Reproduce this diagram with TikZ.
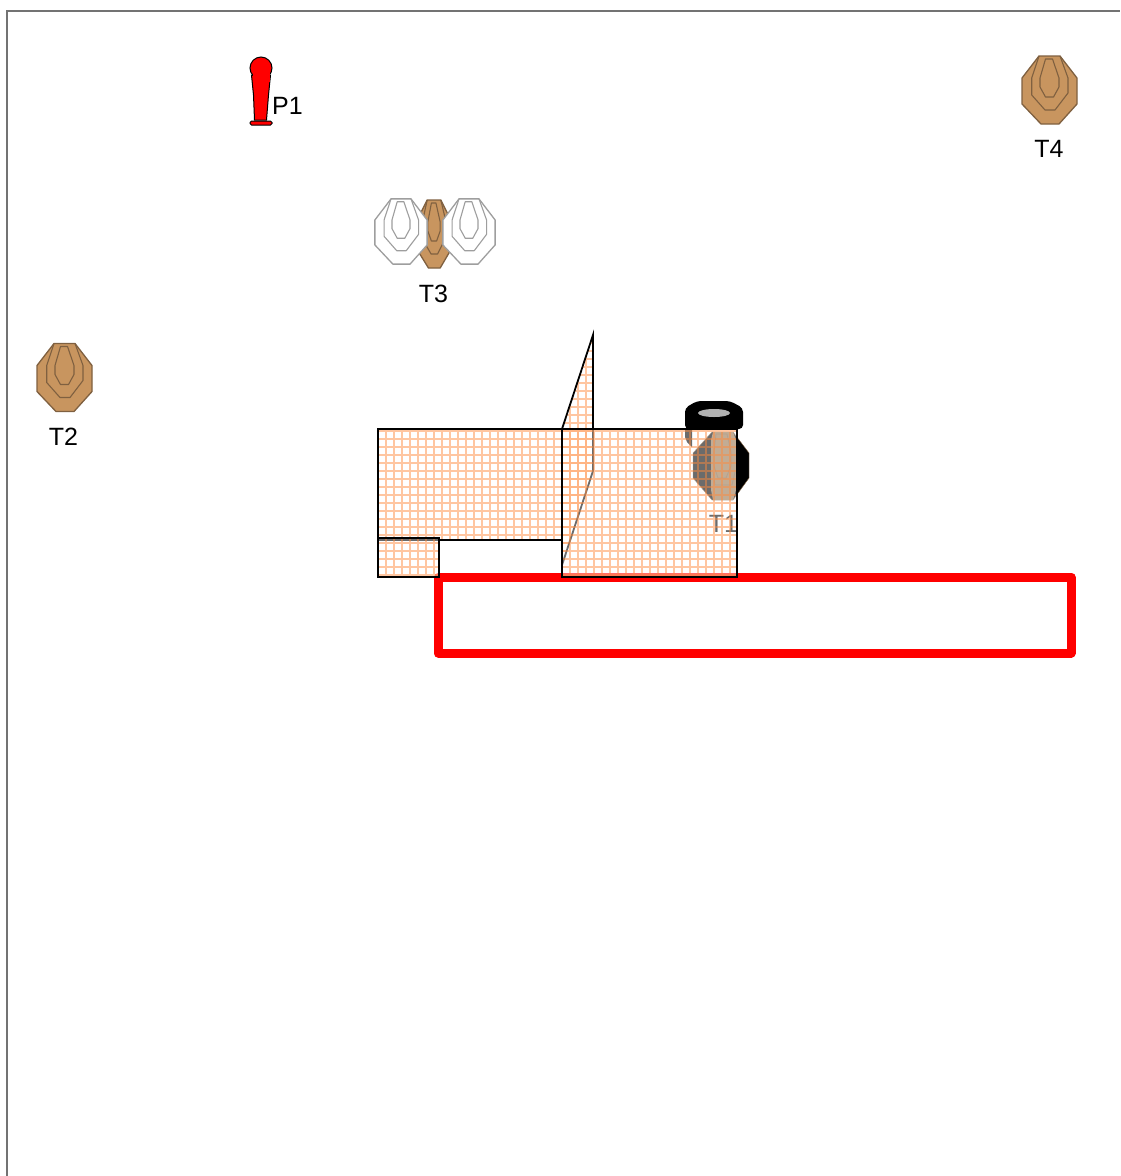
\documentclass[tikz,border=0pt]{standalone}
\usepackage{fontspec}
\setmainfont{Liberation Sans}
\usepackage{tikz}
\definecolor{tan}{HTML}{C8955F}
\definecolor{tanline}{HTML}{7F6040}
\definecolor{meshc}{HTML}{FF8A3C}
\newcommand{\meshfill}[1]{
  \begin{scope}
    \clip #1;
    \fill[white, opacity=0.42] #1;
    \draw[meshline] foreach \gx in {362,370,...,738} {(\gx,320) -- (\gx,590)}
      foreach \gy in {327,335,...,583} {(360,\gy) -- (740,\gy)};
  \end{scope}
  \draw[wallline] #1;
}
\begin{document}
\begin{tikzpicture}[
  x=1pt, y=-1pt,
  meshline/.style={meshc, opacity=0.48, line width=2.4pt},
  wallline/.style={black, line width=1.8pt, line join=miter},
  lbl/.style={font=\fontsize{25}{25}\selectfont, inner sep=0pt, text=black},
  pics/target/.style 2 args={code={
    \draw[fill=#1, draw=#2, line width=1.3pt, line join=round]
      (-10.5,-34) -- (10.5,-34) -- (27.5,-12) -- (27.5,14) -- (9.5,34) -- (-8.5,34) -- (-27.5,14) -- (-27.5,-12) -- cycle;
    \draw[draw=#2, line width=1.1pt, line join=round]
      (-10.5,-34) -- (-17.8,-12) -- (-17.8,5) -- (-4.5,20) -- (5.5,20) -- (18.5,3) -- (18.5,-12) -- (10.5,-34);
    \draw[draw=#2, line width=1.1pt, line join=round]
      (-4,-31) -- (3,-31) -- (9.5,-12) -- (9.5,-3) -- (4,7) -- (-4,7) -- (-9.5,-3) -- (-9.5,-12) -- cycle;
  }},
]
  \useasboundingbox (0,0) rectangle (1120,1176);
  \draw[black!55, line width=2pt] (7,1176) -- (7,10.5) -- (1120,10.5);

  \draw[draw=black, fill=red, line width=1pt] (251.5,75) -- (253.5,95) -- (254.5,120) -- (266.5,120) -- (268.5,95) -- (270.5,75) -- cycle;
  \draw[draw=black, fill=red, line width=1pt] (261,68) circle (11);
  \fill[red] (252.5,72) rectangle (269.5,82);
  \draw[draw=black, fill=red, line width=1pt, rounded corners=1.5pt] (250,121) rectangle (272,125);
  \node[lbl] (p1) at (287.5,106) {P1};

  \pic at (1049.5,90) {target={tan}{tanline}};
  \node[lbl] (t4) at (1049,149) {T4};

  \pic at (64.5,377.5) {target={tan}{tanline}};
  \node[lbl] (t2) at (63.5,437) {T2};

  \pic[xscale=0.65] at (434,234) {target={tan}{tanline}};
  \pic[xscale=0.95, yscale=0.96] at (401,231.5) {target={white}{black!38}};
  \pic[xscale=0.95, yscale=0.96] at (469,231.5) {target={white}{black!38}};
  \node[lbl] (t3) at (433.5,294) {T3};

  \draw[red, line width=9pt, line join=round] (438,577) rectangle (1071,653);

  \fill[black, rounded corners=4pt] (697,401) -- (730,401) -- (743,408) -- (743,429) -- (685,429) -- (685,408) -- cycle;
  \fill[black!30] (714,413) ellipse (16 and 4);
  \fill[black] (685,429) -- (692,429) -- (692,447) -- (687,442) -- (685,437) -- cycle;
  \draw[fill=black, draw=tanline] (712,432) -- (733,432) -- (749,453) -- (749,478) -- (733,500) -- (712,500) -- (693,478) -- (693,453) -- cycle;
  \fill[tan!75!black] (713,432) -- (733,432) -- (736,440) -- (736,490) -- (733,500) -- (713,500) -- (711,490) -- (711,440) -- cycle;
  \draw[tanline, line width=0.8pt] (716,434) -- (727,434) -- (731,452) -- (731,466) -- (726,478) -- (718,478) -- (714,466) -- (714,452) -- cycle;
  \draw[tanline, line width=0.8pt] (713,472) -- (715,485) -- (732,485) -- (735,472);
  \node[lbl] (t1) at (723.5,524) {T1};

  \meshfill{(378,429) rectangle (562,540)}
  \meshfill{(378,538) rectangle (439,577)}
  \meshfill{(562,429) -- (593,335) -- (593,471) -- (562,565) -- cycle}
  \meshfill{(562,429) rectangle (737,577)}
\end{tikzpicture}
\end{document}
